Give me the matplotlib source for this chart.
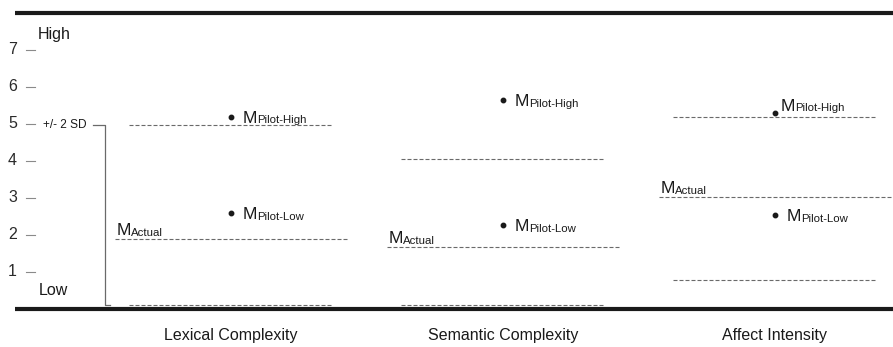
import matplotlib
matplotlib.use("Agg")
import matplotlib.pyplot as plt

plt.rcParams['font.family'] = ['Liberation Sans', 'DejaVu Sans']

# values (scale 1-7, frame 0-8)
categories = ['Lexical Complexity', 'Semantic Complexity', 'Affect Intensity']
m_actual = [1.89, 1.67, 3.02]
sd_upper = [4.97, 4.05, 5.18]
sd_lower = [0.10, 0.10, 0.78]
m_pilot_high = [5.20, 5.65, 5.29]
m_pilot_low = [2.59, 2.26, 2.53]
scale_ticks = [1, 2, 3, 4, 5, 6, 7]

TXT = '#1a1a1a'
GRAY = '#6a6a6a'

fig = plt.figure(figsize=(8.93, 3.47), dpi=100)
ax = fig.add_axes([0, 0, 1, 1])
ax.set_xlim(-0.849, 2.434)
ax.set_ylim(-1.03, 8.35)
ax.axis('off')

# thick frame lines
ax.hlines([0, 8], -0.794, 2.434, color=TXT, lw=3.0)

# scale on the left
for t in scale_ticks:
    ax.text(-0.787, t, str(t), ha='right', va='center', fontsize=11.5, color='#2a2a2a')
    ax.plot([-0.754, -0.721], [t, t], color='#8a8a8a', lw=0.8)
ax.text(-0.71, 7.43, 'High', ha='left', va='center', fontsize=11.5, color=TXT)
ax.text(-0.705, 0.5, 'Low', ha='left', va='center', fontsize=11.5, color=TXT)

# +/- 2 SD bracket (drawn for the first category)
bx = -0.463
ax.plot([bx - 0.044, bx, bx, bx + 0.018], [sd_upper[0], sd_upper[0], sd_lower[0], sd_lower[0]],
        color=GRAY, lw=0.9)
ax.text(-0.691, sd_upper[0], '+/- 2 SD', ha='left', va='center', fontsize=8.6, color=TXT)

dash = (0, (3.6, 1.8))


def m_label(x, y, sub, dx, dy):
    ax.annotate('M', (x, y), xytext=(dx, dy), textcoords='offset points',
                ha='left', va='baseline', fontsize=12.5, color=TXT)
    ax.annotate(sub, (x, y), xytext=(dx + 10.6, dy - 0.6), textcoords='offset points',
                ha='left', va='baseline', fontsize=8.2, color=TXT)


for i, cat in enumerate(categories):
    # +/- 2 SD bounds
    ax.hlines([sd_upper[i], sd_lower[i]], i - 0.375, i + 0.375, color=GRAY, lw=0.8, linestyles=[dash])
    # actual mean
    ax.hlines(m_actual[i], i - 0.426, i + 0.426, color=GRAY, lw=0.8, linestyles=[dash])
    m_label(i - 0.426, m_actual[i], 'Actual', 1.0, 2.9)

    # pilot means
    ax.plot([i, i], [m_pilot_high[i], m_pilot_low[i]], 'o', color=TXT, ms=3.2, ls='none')
    if i == 2:
        m_label(i, m_pilot_high[i], 'Pilot-High', 4.0, 1.9)
    else:
        m_label(i, m_pilot_high[i], 'Pilot-High', 8.6, -4.3)
    m_label(i, m_pilot_low[i], 'Pilot-Low', 8.6, -4.3)

    ax.text(i, -0.72, cat, ha='center', va='center', fontsize=11.5, color=TXT)

fig.savefig('out.png', dpi=100)
